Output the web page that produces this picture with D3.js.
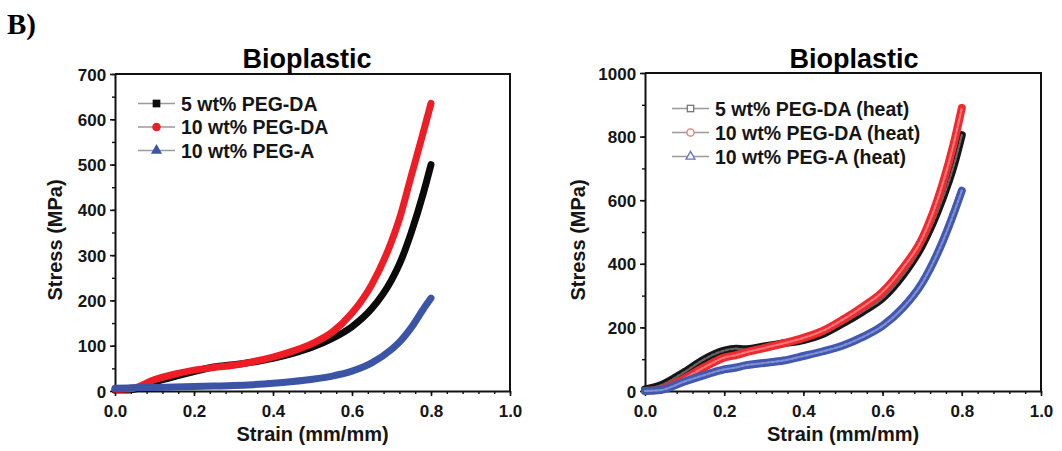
<!DOCTYPE html>
<html><head><meta charset="utf-8">
<script src="https://cdn.jsdelivr.net/npm/d3@7/dist/d3.min.js"></script>
<style>
html,body{margin:0;padding:0;background:#fff;}
svg{display:block;}
text{font-family:"Liberation Sans",Arial,Helvetica,sans-serif;font-weight:bold;fill:#151515;}
</style></head>
<body>
<svg id="chart" width="1062" height="451"></svg>
<script>
// ---------- data ----------
const xTicks = [0.0, 0.2, 0.4, 0.6, 0.8, 1.0];
const leftYTicks = [0, 100, 200, 300, 400, 500, 600, 700];
const rightYTicks = [0, 200, 400, 600, 800, 1000];

const leftLegend = ["5 wt% PEG-DA", "10 wt% PEG-DA", "10 wt% PEG-A"];
const rightLegend = ["5 wt% PEG-DA (heat)", "10 wt% PEG-DA (heat)", "10 wt% PEG-A (heat)"];

const strainL = [0, 0.04, 0.1, 0.15, 0.2, 0.25, 0.3, 0.35, 0.4, 0.45, 0.5, 0.55, 0.6, 0.65, 0.7, 0.72, 0.75, 0.78, 0.8];
const peg5DA   = [2, 3, 20, 32, 43, 53, 58, 64, 72, 83, 97, 116, 142, 182, 245, 280, 350, 435, 500];
const peg10DA  = [4, 5, 25, 37, 46, 52, 57, 65, 75, 88, 105, 130, 172, 235, 330, 380, 475, 570, 635];
const peg10A   = [6, 7, 8, 9, 10, 11, 12, 14, 17, 21, 26, 33, 44, 62, 92, 108, 140, 180, 205];

const strainR = [0, 0.04, 0.1, 0.15, 0.2, 0.23, 0.25, 0.3, 0.35, 0.4, 0.45, 0.5, 0.55, 0.6, 0.65, 0.7, 0.75, 0.78, 0.8];
const peg5DAh  = [5, 18, 60, 100, 127, 133, 131, 140, 150, 160, 180, 213, 250, 292, 362, 458, 600, 710, 805];
const peg10DAh = [0, 5, 40, 75, 105, 113, 120, 135, 150, 167, 190, 225, 265, 312, 385, 480, 645, 780, 890];
const peg10Ah  = [0, 3, 30, 50, 68, 74, 80, 88, 96, 110, 125, 143, 170, 205, 260, 340, 465, 560, 630];

// ---------- drawing ----------
const svg = d3.select("#chart");

// panel label
svg.append("text").attr("x", 7).attr("y", 34)
  .style("font-family", "'Liberation Serif','Times New Roman',serif")
  .style("font-size", "29px").style("fill", "#000").text("B)");

function panel(cfg) {
  const x = d3.scaleLinear().domain([0, 1]).range([cfg.x0, cfg.x1]);
  const y = d3.scaleLinear().domain([0, cfg.ymax]).range([cfg.y0, cfg.y1]);
  const g = svg.append("g");

  // minor ticks
  const xMinor = d3.range(0, 1.0001, 0.04).map(v => +v.toFixed(2));
  g.append("g").attr("transform", `translate(0,${cfg.y0})`)
    .call(d3.axisBottom(x).tickValues(xMinor).tickSize(3).tickSizeOuter(0).tickFormat(""))
    .call(a => a.select(".domain").remove())
    .selectAll("line").attr("stroke", "#111").attr("stroke-width", 1.4);
  const yMinor = d3.range(0, cfg.ymax + 0.1, cfg.ystep / 2);
  g.append("g").attr("transform", `translate(${cfg.x0},0)`)
    .call(d3.axisLeft(y).tickValues(yMinor).tickSize(3).tickSizeOuter(0).tickFormat(""))
    .call(a => a.select(".domain").remove())
    .selectAll("line").attr("stroke", "#111").attr("stroke-width", 1.4);

  // major axes
  const ax = g.append("g").attr("transform", `translate(0,${cfg.y0})`)
    .call(d3.axisBottom(x).tickValues(xTicks).tickSize(5).tickSizeOuter(0).tickFormat(d3.format(".1f")));
  ax.selectAll("text").style("font-size", "17px").attr("dy", "1.05em");
  const ay = g.append("g").attr("transform", `translate(${cfg.x0},0)`)
    .call(d3.axisLeft(y).tickValues(cfg.yTicks).tickSize(5).tickSizeOuter(0).tickFormat(d3.format("d")));
  ay.selectAll("text").style("font-size", "17px").attr("dx", "-0.05em").attr("dy", "0.36em");
  [ax, ay].forEach(a => {
    a.select(".domain").attr("stroke", "#111").attr("stroke-width", 2);
    a.selectAll(".tick line").attr("stroke", "#111").attr("stroke-width", 1.6);
    a.attr("font-family", null).attr("font-size", null);
  });
  // frame top & right
  g.append("path")
    .attr("d", `M${cfg.x0},${cfg.y1}H${cfg.x1}V${cfg.y0}`)
    .attr("fill", "none").attr("stroke", "#111").attr("stroke-width", 2);

  // curves
  const line = d3.line().x((d, i) => x(cfg.strain[i])).y(d => y(d)).curve(d3.curveMonotoneX);
  cfg.series.forEach(s => {
    g.append("path").datum(s.values).attr("d", line)
      .attr("fill", "none").attr("stroke", s.color).attr("stroke-width", cfg.lw)
      .attr("stroke-linecap", "round").attr("stroke-linejoin", "round");
    if (s.inner) {
      g.append("path").datum(s.values).attr("d", line)
        .attr("fill", "none").attr("stroke", s.inner).attr("stroke-width", 2.2)
        .attr("stroke-dasharray", "3,2").attr("opacity", 0.7)
        .attr("stroke-linecap", "round");
    }
  });

  // title & labels
  svg.append("text").attr("x", cfg.titleX).attr("y", 68).attr("text-anchor", "middle")
    .style("font-size", "27px").style("fill", "#000").text("Bioplastic");
  svg.append("text").attr("x", (cfg.x0 + cfg.x1) / 2).attr("y", 441).attr("text-anchor", "middle")
    .style("font-size", "20px").text("Strain (mm/mm)");
  svg.append("text").attr("transform", `translate(${cfg.ylabX},${cfg.ylabY}) rotate(-90)`)
    .attr("text-anchor", "middle").style("font-size", "20px").text("Stress (MPa)");

  // legend
  cfg.legend.forEach((name, i) => {
    const s = cfg.series[i];
    const ly = cfg.legY + i * cfg.legDy;
    svg.append("line").attr("x1", cfg.legX).attr("x2", cfg.legX + 37)
      .attr("y1", ly).attr("y2", ly).attr("stroke", "#9a9a9a").attr("stroke-width", 1.4);
    const mx = cfg.legX + 18.5;
    const fill = cfg.hollow ? "#fff" : s.color;
    const stroke = cfg.hollow ? s.mark : s.color;
    let m;
    if (s.shape === "square") {
      m = svg.append("rect").attr("x", mx - 3.2).attr("y", ly - 3.2).attr("width", 6.4).attr("height", 6.4);
    } else if (s.shape === "circle") {
      m = svg.append("circle").attr("cx", mx).attr("cy", ly).attr("r", 3.6);
    } else {
      m = svg.append("path").attr("transform", `translate(${mx},${ly})`)
        .attr("d", d3.symbol(d3.symbolTriangle, 34)());
    }
    m.attr("fill", fill).attr("stroke", stroke).attr("stroke-width", 1.3);
    svg.append("text").attr("x", cfg.legX + 43).attr("y", ly).attr("dy", "0.36em")
      .style("font-size", "19.5px").text(name);
  });
}

panel({
  x0: 115, x1: 510, y0: 391, y1: 74, ymax: 700, ystep: 100, yTicks: leftYTicks,
  strain: strainL, lw: 7, titleX: 307, ylabX: 62, ylabY: 240,
  legend: leftLegend, legX: 138, legY: 103.5, legDy: 23.5, hollow: false,
  series: [
    {values: peg5DA, color: "#0a0a0a", shape: "square"},
    {values: peg10DA, color: "#ee1d25", shape: "circle"},
    {values: peg10A, color: "#3b54a6", shape: "triangle"}
  ]
});

panel({
  x0: 645, x1: 1041, y0: 391, y1: 73, ymax: 1000, ystep: 200, yTicks: rightYTicks,
  strain: strainR, lw: 8, titleX: 854, ylabX: 585, ylabY: 240,
  legend: rightLegend, legX: 672, legY: 108.5, legDy: 24, hollow: true,
  series: [
    {values: peg5DAh, color: "#161616", inner: "#8a8a8a", mark: "#777", shape: "square"},
    {values: peg10DAh, color: "#ef2a2f", inner: "#ff9a9a", mark: "#f07070", shape: "circle"},
    {values: peg10Ah, color: "#4157b0", inner: "#9aa8e0", mark: "#6670c8", shape: "triangle"}
  ]
});
</script>
</body></html>
